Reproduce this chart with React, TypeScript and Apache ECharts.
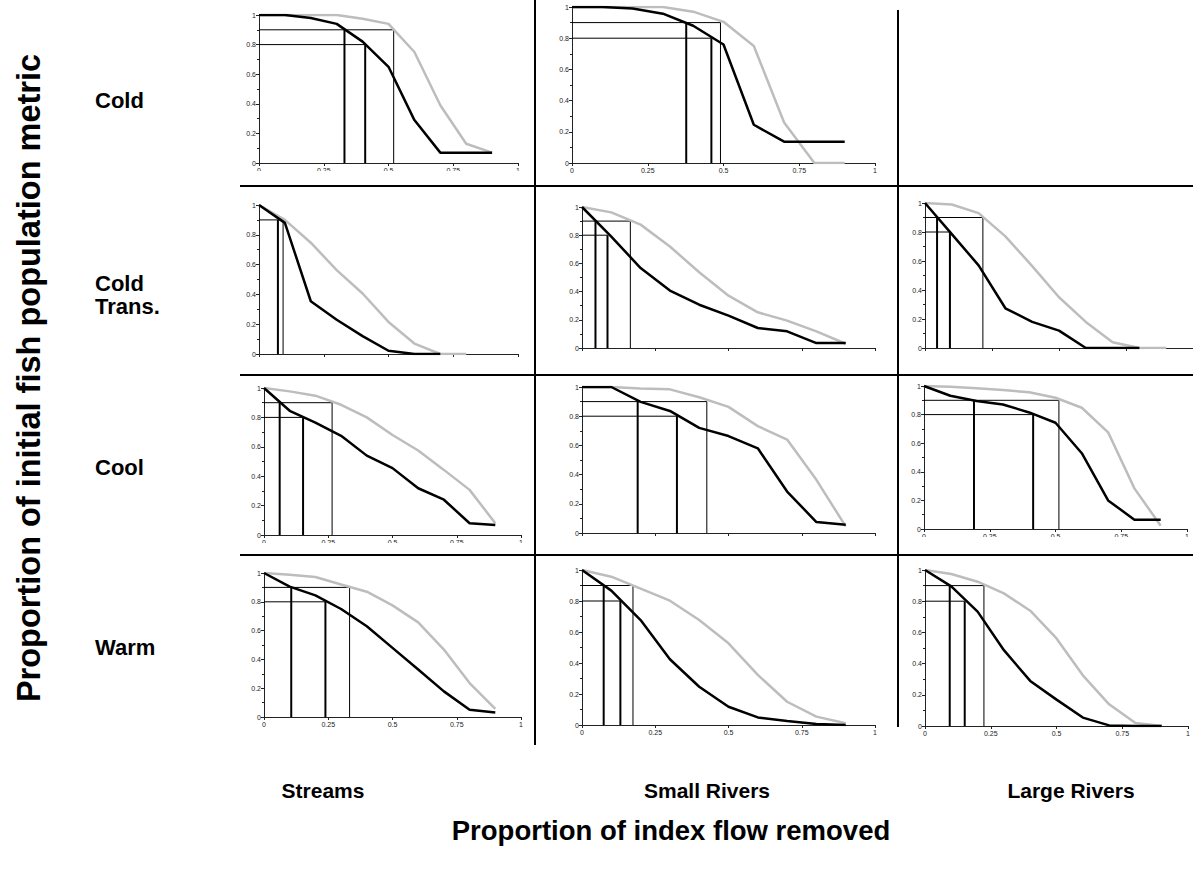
import React, { useEffect, useRef } from "react";
import * as echarts from "echarts";

// proportion of index flow removed (x values of each curve)
const flowRemoved = [0, 0.1, 0.2, 0.3, 0.4, 0.5, 0.6, 0.7, 0.8, 0.9];
const xTickLabels = ["0", "0.25", "0.5", "0.75", "1"];
const rowLabels = [["Cold"], ["Cold", "Trans."], ["Cool"], ["Warm"]];
const colLabels = ["Streams", "Small Rivers", "Large Rivers"];
const yTitle = "Proportion of initial fish population metric";
const xTitle = "Proportion of index flow removed";

// black curve / grey curve values, per panel
const coldStreamsBlack = [1, 1, 0.98, 0.94, 0.82, 0.65, 0.29, 0.07, 0.07, 0.07];
const coldStreamsGray = [1, 1, 1, 1, 0.975, 0.94, 0.75, 0.39, 0.13, 0.07];
const coldSmallBlack = [1, 1, 0.99, 0.957, 0.88, 0.76, 0.245, 0.137, 0.137, 0.137];
const coldSmallGray = [1, 1, 1, 1, 0.97, 0.905, 0.75, 0.26, 0, 0];

const ctStreamsBlack = [1, 0.88, 0.354, 0.23, 0.12, 0.022, 0, 0];
const ctStreamsGray = [1, 0.9, 0.747, 0.563, 0.406, 0.215, 0.07, 0, 0];
const ctSmallBlack = [1, 0.79, 0.567, 0.407, 0.307, 0.23, 0.142, 0.118, 0.035, 0.035];
const ctSmallGray = [1, 0.962, 0.875, 0.72, 0.537, 0.371, 0.253, 0.194, 0.118, 0.03];
const ctLargeBlack = [1, 0.785, 0.57, 0.274, 0.18, 0.12, 0, 0, 0];
const ctLargeGray = [1, 0.99, 0.93, 0.77, 0.565, 0.35, 0.18, 0.04, 0, 0];

const coolStreamsBlack = [1, 0.845, 0.765, 0.675, 0.54, 0.455, 0.318, 0.24, 0.08, 0.068];
const coolStreamsGray = [1, 0.977, 0.948, 0.886, 0.8, 0.68, 0.575, 0.443, 0.307, 0.08];
const coolSmallBlack = [1, 1, 0.898, 0.836, 0.72, 0.664, 0.58, 0.284, 0.075, 0.057];
const coolSmallGray = [1, 1, 0.99, 0.984, 0.93, 0.864, 0.732, 0.64, 0.364, 0.045];
const coolLargeBlack = [1, 0.932, 0.895, 0.871, 0.815, 0.743, 0.53, 0.2, 0.065, 0.065];
const coolLargeGray = [1, 0.995, 0.984, 0.972, 0.956, 0.918, 0.848, 0.676, 0.284, 0.023];

const warmStreamsBlack = [1, 0.905, 0.845, 0.75, 0.63, 0.48, 0.33, 0.178, 0.05, 0.032];
const warmStreamsGray = [1, 0.988, 0.972, 0.92, 0.87, 0.775, 0.657, 0.468, 0.236, 0.056];
const warmSmallBlack = [1, 0.867, 0.677, 0.424, 0.247, 0.118, 0.049, 0.026, 0.006, 0];
const warmSmallGray = [1, 0.957, 0.88, 0.802, 0.677, 0.527, 0.323, 0.15, 0.054, 0.011];
const warmLargeBlack = [1, 0.895, 0.733, 0.486, 0.289, 0.169, 0.054, 0.004, 0, 0];
const warmLargeGray = [1, 0.974, 0.925, 0.85, 0.739, 0.561, 0.325, 0.139, 0.019, 0];

// flow removed where: black reaches 0.9, black reaches 0.8, grey reaches 0.9
const coldStreamsCross = [0.33, 0.41, 0.52];
const coldSmallCross = [0.377, 0.46, 0.49];
const ctStreamsCross = [0.073, null, 0.093];
const ctSmallCross = [0.046, 0.087, 0.165];
const ctLargeCross = [0.045, 0.093, 0.216];
const coolStreamsCross = [0.061, 0.152, 0.265];
const coolSmallCross = [0.19, 0.324, 0.426];
const coolLargeCross = [0.19, 0.415, 0.513];
const warmStreamsCross = [0.106, 0.239, 0.333];
const warmSmallCross = [0.074, 0.131, 0.174];
const warmLargeCross = [0.094, 0.151, 0.224];

const FONT = '"Liberation Sans", Arial, Helvetica, sans-serif';

type Panel = {
  rect: { left: number; top: number; width: number; height: number };
  black: number[];
  gray: number[];
  cross: (number | null)[];
  labels: boolean;
  clipY?: number;
  clipX?: [number, number];
};

const panels: Panel[] = [
  { rect: { left: 259, top: 15, width: 259, height: 148 }, black: coldStreamsBlack, gray: coldStreamsGray, cross: coldStreamsCross, labels: true, clipY: 171, clipX: [240, 534] },
  { rect: { left: 572, top: 7, width: 303, height: 156 }, black: coldSmallBlack, gray: coldSmallGray, cross: coldSmallCross, labels: true },
  { rect: { left: 259, top: 205, width: 259, height: 149 }, black: ctStreamsBlack, gray: ctStreamsGray, cross: ctStreamsCross, labels: false },
  { rect: { left: 582, top: 207, width: 293, height: 141 }, black: ctSmallBlack, gray: ctSmallGray, cross: ctSmallCross, labels: true, clipY: 353, clipX: [537, 896] },
  { rect: { left: 925, top: 203, width: 272, height: 145 }, black: ctLargeBlack, gray: ctLargeGray, cross: ctLargeCross, labels: false },
  { rect: { left: 264, top: 388, width: 257, height: 147 }, black: coolStreamsBlack, gray: coolStreamsGray, cross: coolStreamsCross, labels: true, clipY: 543, clipX: [240, 534] },
  { rect: { left: 582, top: 387, width: 293, height: 146 }, black: coolSmallBlack, gray: coolSmallGray, cross: coolSmallCross, labels: false },
  { rect: { left: 924, top: 386, width: 263, height: 143 }, black: coolLargeBlack, gray: coolLargeGray, cross: coolLargeCross, labels: true, clipY: 537, clipX: [900, 1193] },
  { rect: { left: 264, top: 573, width: 257, height: 144 }, black: warmStreamsBlack, gray: warmStreamsGray, cross: warmStreamsCross, labels: true },
  { rect: { left: 582, top: 570, width: 293, height: 155 }, black: warmSmallBlack, gray: warmSmallGray, cross: warmSmallCross, labels: true },
  { rect: { left: 925, top: 570, width: 266, height: 156 }, black: warmLargeBlack, gray: warmLargeGray, cross: warmLargeCross, labels: true },
];

const fmt = (v: number) => String(Math.round(v * 100) / 100);

function buildOption() {
  const grid: any[] = [];
  const xAxis: any[] = [];
  const yAxis: any[] = [];
  const series: any[] = [];
  const graphic: any[] = [];

  panels.forEach((p, i) => {
    grid.push({ ...p.rect, containLabel: false });
    xAxis.push({
      gridIndex: i,
      type: "value",
      min: 0,
      max: 1,
      interval: 0.25,
      axisLine: { show: true, onZero: false, lineStyle: { color: "#222", width: 1 } },
      axisTick: { show: true, length: 3, lineStyle: { color: "#222" } },
      splitLine: { show: false },
      axisLabel: {
        show: p.labels,
        fontSize: 7,
        color: "#222",
        margin: 4,
        fontFamily: FONT,
        formatter: (v: number) => xTickLabels[Math.round(v * 4)] ?? fmt(v),
      },
    });
    yAxis.push({
      gridIndex: i,
      type: "value",
      min: 0,
      max: 1,
      interval: 0.2,
      axisLine: { show: true, onZero: false, lineStyle: { color: "#222", width: 1 } },
      axisTick: { show: true, length: 3, lineStyle: { color: "#222" } },
      minorTick: { show: true, splitNumber: 2, length: 2, lineStyle: { color: "#222" } },
      splitLine: { show: false },
      axisLabel: { fontSize: 7, color: "#222", margin: 3, fontFamily: FONT, formatter: fmt },
    });

    const [b90, b80, g90] = p.cross;
    const base = { type: "line", xAxisIndex: i, yAxisIndex: i, symbol: "none", silent: true, z: 2 };
    if (g90 != null) {
      series.push({ ...base, data: [[0, 0.9], [g90, 0.9], [g90, 0]], lineStyle: { color: "#000", width: 1 } });
    }
    if (b80 != null) {
      series.push({ ...base, data: [[0, 0.8], [b80, 0.8]], lineStyle: { color: "#000", width: 1 } });
      series.push({ ...base, data: [[b80, 0.8], [b80, 0]], lineStyle: { color: "#000", width: 2 } });
    }
    if (b90 != null) {
      series.push({ ...base, data: [[b90, 0.9], [b90, 0]], lineStyle: { color: "#000", width: 2 } });
    }
    series.push({
      ...base,
      z: 3,
      data: p.gray.map((v, j) => [flowRemoved[j], v]),
      lineStyle: { color: "#bdbdbd", width: 2.5 },
    });
    series.push({
      ...base,
      z: 4,
      data: p.black.map((v, j) => [flowRemoved[j], v]),
      lineStyle: { color: "#000", width: 2.5 },
    });

    if (p.labels && p.clipY != null && p.clipX) {
      graphic.push({
        type: "rect",
        z: 50,
        shape: { x: p.clipX[0], y: p.clipY, width: p.clipX[1] - p.clipX[0], height: 14 },
        style: { fill: "#fff" },
        silent: true,
      });
    }
  });

  // table dividers
  const div = (x1: number, y1: number, x2: number, y2: number) => ({
    type: "line",
    z: 100,
    silent: true,
    shape: { x1, y1, x2, y2 },
    style: { stroke: "#000", lineWidth: 2 },
  });
  graphic.push(div(240, 186, 1193, 186));
  graphic.push(div(240, 375, 1193, 375));
  graphic.push(div(240, 555, 1193, 555));
  graphic.push(div(535, 0, 535, 745));
  graphic.push(div(898, 10, 898, 727));

  const rowY = [[100], [283, 306], [467], [647]];
  rowLabels.forEach((lines, i) => {
    lines.forEach((t, k) => {
      graphic.push({
        type: "text",
        z: 100,
        x: 95,
        y: rowY[i][k],
        style: {
          text: t,
          font: `bold 22px ${FONT}`,
          fill: "#000",
          align: "left",
          verticalAlign: "middle",
          textAlign: "left",
          textVerticalAlign: "middle",
        },
      });
    });
  });
  const colX = [323, 707, 1071];
  colLabels.forEach((t, i) => {
    graphic.push({
      type: "text",
      z: 100,
      x: colX[i],
      y: 790,
      style: {
        text: t,
        font: `bold 21px ${FONT}`,
        fill: "#000",
        align: "center",
        verticalAlign: "middle",
        textAlign: "center",
        textVerticalAlign: "middle",
      },
    });
  });
  graphic.push({
    type: "text",
    z: 100,
    x: 671,
    y: 830,
    style: {
      text: xTitle,
      font: `bold 27.5px ${FONT}`,
      fill: "#000",
      align: "center",
      verticalAlign: "middle",
      textAlign: "center",
      textVerticalAlign: "middle",
    },
  });
  graphic.push({
    type: "text",
    z: 100,
    x: 29,
    y: 378,
    rotation: Math.PI / 2,
    style: {
      text: yTitle,
      font: `bold 32.5px ${FONT}`,
      fill: "#000",
      align: "center",
      verticalAlign: "middle",
      textAlign: "center",
      textVerticalAlign: "middle",
    },
  });

  return { animation: false, backgroundColor: "#fff", grid, xAxis, yAxis, series, graphic };
}

export default function App() {
  const ref = useRef<HTMLDivElement>(null);
  useEffect(() => {
    if (!ref.current) return;
    const chart = echarts.init(ref.current, undefined, { renderer: "svg" });
    chart.setOption(buildOption() as any);
    return () => chart.dispose();
  }, []);
  return (
    <div
      ref={ref}
      style={{ position: "fixed", left: 0, top: 0, width: 1193, height: 877, background: "#fff" }}
    />
  );
}
